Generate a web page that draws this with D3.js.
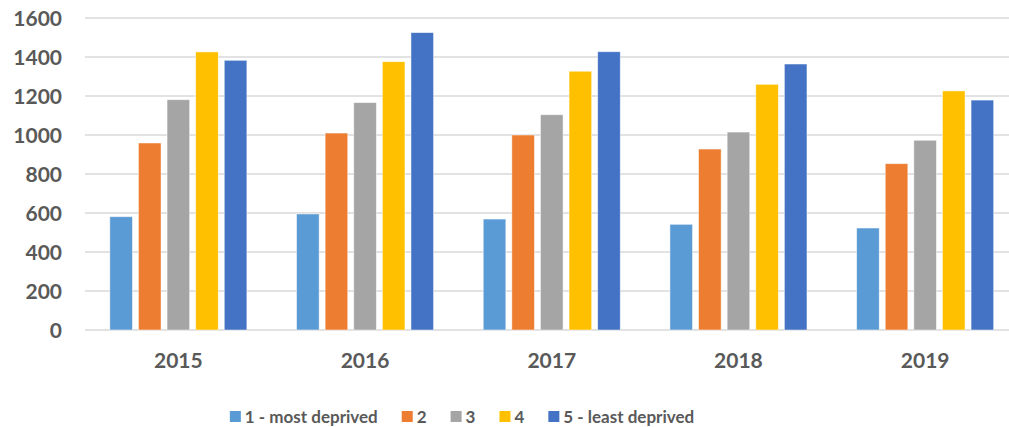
<!DOCTYPE html>
<html>
<head>
<meta charset="utf-8">
<script src="https://cdn.jsdelivr.net/npm/d3@7"></script>
<style>
  body { margin: 0; background: #fff; }
  text { font-family: Lato, "Open Sans", sans-serif; font-weight: bold; fill: #595959; }
</style>
</head>
<body>
<svg id="chart"></svg>
<script>
// data
const years = ['2015', '2016', '2017', '2018', '2019'];
const groups = ['1 - most deprived', '2', '3', '4', '5 - least deprived'];
const q1 = [581, 595, 569, 542, 523];
const q2 = [959, 1010, 1000, 928, 853];
const q3 = [1181, 1166, 1104, 1015, 973];
const q4 = [1426, 1376, 1327, 1260, 1226];
const q5 = [1383, 1525, 1427, 1364, 1179];
const yTicks = [0, 200, 400, 600, 800, 1000, 1200, 1400, 1600];
const colors = ['#5B9BD5', '#ED7D31', '#A5A5A5', '#FFC000', '#4472C4'];

(function() {
  const width = 1009, height = 427;
  const series = [q1, q2, q3, q4, q5];

  const svg = d3.select('#chart')
    .attr('width', width)
    .attr('height', height);

  // plot runs off the right edge a little, like the original crop
  const x0 = d3.scaleBand()
    .domain(years)
    .range([85, 1018.5])
    .paddingInner(0.266)
    .paddingOuter(0.133);

  const x1 = d3.scaleBand()
    .domain(d3.range(groups.length))
    .range([0, x0.bandwidth()])
    .paddingInner(0.21);

  const y = d3.scaleLinear()
    .domain([0, 1600])
    .range([330, 18]);

  // gridlines
  svg.append('g')
    .selectAll('line')
    .data(yTicks)
    .enter().append('line')
      .attr('x1', 85)
      .attr('x2', width)
      .attr('y1', d => y(d))
      .attr('y2', d => y(d))
      .attr('stroke', '#d9d9d9')
      .attr('stroke-width', 1.3);

  // y labels
  svg.append('g')
    .selectAll('text')
    .data(yTicks)
    .enter().append('text')
      .attr('x', 62)
      .attr('y', d => y(d))
      .attr('dy', '0.36em')
      .attr('text-anchor', 'end')
      .style('font-size', '21px')
      .text(d => d);

  // bars
  const yearG = svg.append('g')
    .selectAll('g')
    .data(years)
    .enter().append('g')
      .attr('transform', d => `translate(${x0(d)},0)`);

  yearG.selectAll('rect')
    .data((d, i) => series.map((s, k) => ({ k: k, v: s[i] })))
    .enter().append('rect')
      .attr('x', d => x1(d.k))
      .attr('width', x1.bandwidth())
      .attr('y', d => y(d.v))
      .attr('height', d => y(0) - y(d.v))
      .attr('fill', d => colors[d.k])
      .attr('stroke', '#fff')
      .attr('stroke-opacity', 0.6)
      .attr('stroke-width', 0.8);

  // x labels
  svg.append('g')
    .selectAll('text')
    .data(years)
    .enter().append('text')
      .attr('x', d => x0(d) + x0.bandwidth() / 2)
      .attr('y', 368)
      .attr('text-anchor', 'middle')
      .style('font-size', '21px')
      .text(d => d);

  // legend, laid out from measured text widths and centred
  const legend = svg.append('g');
  const items = legend.selectAll('g')
    .data(groups)
    .enter().append('g');

  items.append('rect')
    .attr('width', 11)
    .attr('height', 11)
    .attr('y', 411)
    .attr('fill', (d, i) => colors[i]);

  items.append('text')
    .attr('x', 15)
    .attr('y', 423)
    .style('font-size', '17px')
    .text(d => d);

  let pos = 0;
  items.each(function() {
    const w = d3.select(this).select('text').node().getComputedTextLength();
    d3.select(this).attr('transform', `translate(${pos},0)`);
    pos += 15 + w + 24;
  });
  const total = pos - 24;
  legend.attr('transform', `translate(${462 - total / 2},0)`);
})();
</script>
</body>
</html>
